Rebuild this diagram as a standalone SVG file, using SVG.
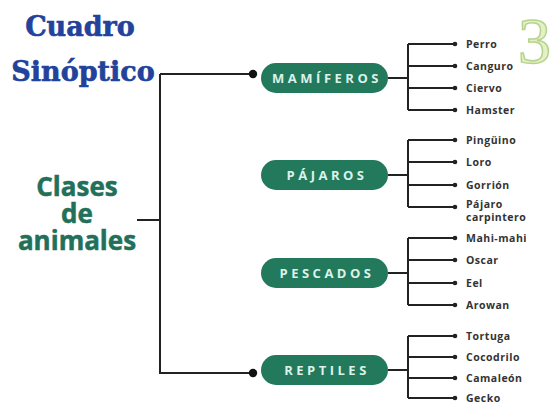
<svg xmlns="http://www.w3.org/2000/svg" width="558" height="404" viewBox="0 0 558 404">
<defs>
<style>
.title{font-family:"DejaVu Serif",serif;font-weight:bold;font-size:27px;fill:#22429b;text-anchor:middle;stroke:#22429b;stroke-width:0.6}
.main{font-family:"Open Sans","DejaVu Sans",sans-serif;font-weight:bold;font-size:26px;fill:#22705a;text-anchor:middle;stroke:#22705a;stroke-width:0.5}
.pill{fill:#22795c}
.ptxt{font-family:"Open Sans","DejaVu Sans",sans-serif;font-weight:bold;font-size:13px;fill:#dcf2ea;text-anchor:middle;letter-spacing:3.5px}
.item{font-family:"Open Sans","DejaVu Sans",sans-serif;font-weight:bold;font-size:10.5px;fill:#333333;letter-spacing:0.5px}
.ln{stroke:#222;stroke-width:2;fill:none}
.dot{fill:#111}
.sdot{fill:#222}
.deco{font-family:"Liberation Serif",serif;font-size:66px;fill:#e4f0c6;stroke:#b5d38c;stroke-width:1.5}
</style>
</defs>
<rect width="558" height="404" fill="#ffffff"/>
<text class="deco" x="518" y="63">3</text>
<g id="title">
<text class="title" x="80" y="36">Cuadro</text>
<text class="title" x="83" y="81">Sinóptico</text>
</g>
<g id="clases">
<text class="main" x="77" y="196">Clases<tspan x="77" y="223">de</tspan><tspan x="77" y="250">animales</tspan></text>
</g>
<g id="connectors">
<path class="ln" d="M160 74 H253 M160 74 V373 H253 M137 220 H160"/>
<circle class="dot" cx="253" cy="74" r="4.2"/>
<circle class="dot" cx="253" cy="373" r="4.2"/>
<path class="ln" d="M388 78 H408 M408 44 V110 M408 44 H455 M408 66 H455 M408 88 H455 M408 110 H455"/>
<path class="ln" d="M388 175 H408 M408 140 V207 M408 140 H455 M408 162 H455 M408 185 H455 M408 207 H455"/>
<path class="ln" d="M388 273 H408 M408 238 V305 M408 238 H455 M408 260 H455 M408 283 H455 M408 305 H455"/>
<path class="ln" d="M388 370 H408 M408 336 V398 M408 336 H455 M408 357 H455 M408 378 H455 M408 398 H455"/>
<g class="sdot">
<circle cx="455" cy="44" r="2.3"/><circle cx="455" cy="66" r="2.3"/><circle cx="455" cy="88" r="2.3"/><circle cx="455" cy="110" r="2.3"/>
<circle cx="455" cy="140" r="2.3"/><circle cx="455" cy="162" r="2.3"/><circle cx="455" cy="185" r="2.3"/><circle cx="455" cy="207" r="2.3"/>
<circle cx="455" cy="238" r="2.3"/><circle cx="455" cy="260" r="2.3"/><circle cx="455" cy="283" r="2.3"/><circle cx="455" cy="305" r="2.3"/>
<circle cx="455" cy="336" r="2.3"/><circle cx="455" cy="357" r="2.3"/><circle cx="455" cy="378" r="2.3"/><circle cx="455" cy="398" r="2.3"/>
</g>
</g>
<g id="mamiferos">
<rect class="pill" x="261" y="63" width="127" height="30" rx="15"/>
<text class="ptxt" x="327" y="83">MAMÍFEROS</text>
<text class="item" x="466" y="48">Perro</text>
<text class="item" x="466" y="70">Canguro</text>
<text class="item" x="466" y="92">Ciervo</text>
<text class="item" x="466" y="114">Hamster</text>
</g>
<g id="pajaros">
<rect class="pill" x="261" y="160" width="127" height="30" rx="15"/>
<text class="ptxt" x="327" y="180">PÁJAROS</text>
<text class="item" x="466" y="144">Pingüino</text>
<text class="item" x="466" y="166">Loro</text>
<text class="item" x="466" y="189">Gorrión</text>
<text class="item" x="466" y="208">Pájaro<tspan x="466" y="221">carpintero</tspan></text>
</g>
<g id="pescados">
<rect class="pill" x="261" y="258" width="127" height="30" rx="15"/>
<text class="ptxt" x="327" y="278">PESCADOS</text>
<text class="item" x="466" y="242">Mahi-mahi</text>
<text class="item" x="466" y="264">Oscar</text>
<text class="item" x="466" y="287">Eel</text>
<text class="item" x="466" y="309">Arowan</text>
</g>
<g id="reptiles">
<rect class="pill" x="261" y="355" width="127" height="30" rx="15"/>
<text class="ptxt" x="327" y="375">REPTILES</text>
<text class="item" x="466" y="340">Tortuga</text>
<text class="item" x="466" y="361">Cocodrilo</text>
<text class="item" x="466" y="382">Camaleón</text>
<text class="item" x="466" y="402">Gecko</text>
</g>
</svg>
